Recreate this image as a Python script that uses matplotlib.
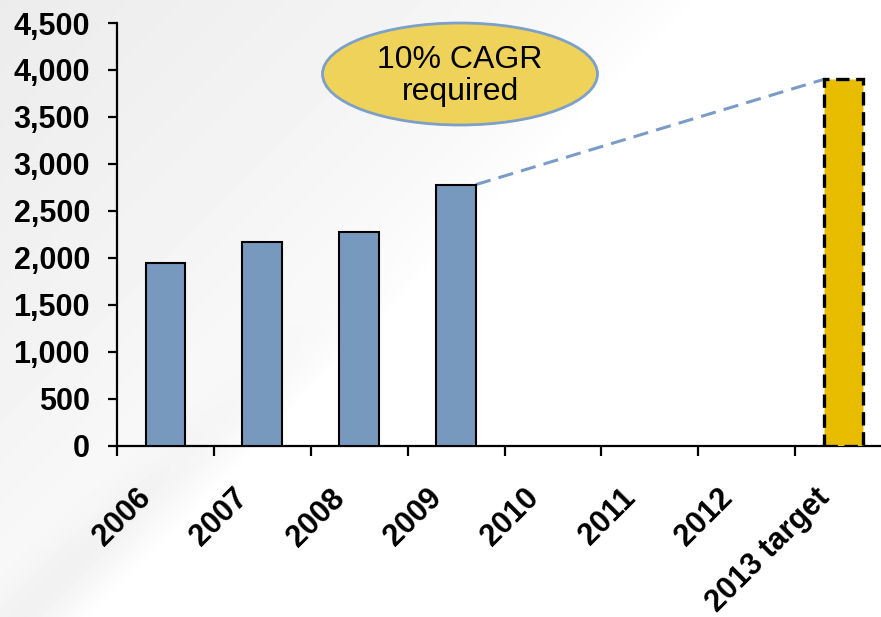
import numpy as np
import matplotlib.pyplot as plt
from matplotlib.patches import Ellipse
from matplotlib.transforms import ScaledTranslation

years = ['2006', '2007', '2008', '2009', '2010', '2011', '2012', '2013 target']
actual = [1950, 2170, 2270, 2780]
target = 3900

plt.rcParams['font.family'] = ['Liberation Sans', 'DejaVu Sans']

fig = plt.figure(figsize=(8.81, 6.17), dpi=100)

# soft grey background swoosh
bg = fig.add_axes([0, 0, 1, 1], zorder=-10)
bg.axis('off')
yy, xx = np.mgrid[0:617, 0:881]
d = (xx + yy).astype(float)
shade = 1 - 0.075 * np.clip(1 - d / 700.0, 0, 1) ** 0.6
band = np.exp(-((d - 640) / 45.0) ** 2) * np.clip((yy - 250) / 300.0, 0, 1)
shade -= 0.035 * band
bg.imshow(shade, cmap='gray', vmin=0, vmax=1, aspect='auto', interpolation='bilinear')

ax = fig.add_axes([0.1328, 0.2776, 0.8797, 0.6851])
ax.set_facecolor('none')
x = np.arange(len(years))
ax.bar(x[:4], actual, width=0.41, color='#7799bd', edgecolor='black', linewidth=1.5, zorder=3)
ax.bar(x[7], target, width=0.41, color='#e8bd00', edgecolor='black', linewidth=2.4,
       linestyle=(0, (4, 2)), zorder=3)

# projection line from last actual to target
ax.plot([x[3] + 0.205, x[7] - 0.205], [actual[3], target], color='#7a9cc6',
        linestyle=(0, (5, 2.7)), linewidth=2.2, zorder=2)

ax.set_xlim(-0.5, len(years) - 0.5)
ax.set_ylim(0, 4500)
ax.set_yticks(range(0, 4501, 500))
ax.set_yticklabels([f'{v:,}' for v in range(0, 4501, 500)], fontsize=22, fontweight='bold')

ax.set_xticks(np.arange(len(years) + 1) - 0.5)
ax.set_xticklabels([])
ax.set_xticks(x, minor=True)
ax.set_xticklabels(years, minor=True, rotation=45, ha='right', fontsize=22, fontweight='bold')
ax.tick_params(axis='x', which='minor', length=0, pad=27)
ax.tick_params(axis='x', which='major', length=7, width=1.6, direction='out')
ax.tick_params(axis='y', which='major', length=6.5, width=1.6, direction='out', pad=13)
offset = ScaledTranslation(-8 / 100, 0, fig.dpi_scale_trans)
for lbl in ax.get_xticklabels(minor=True):
    lbl.set_transform(lbl.get_transform() + offset)

for s in ['top', 'right']:
    ax.spines[s].set_visible(False)
ax.spines['left'].set_linewidth(1.6)
ax.spines['bottom'].set_linewidth(1.6)

# CAGR callout
ell = Ellipse((460 / 881, 1 - 74 / 617), 275 / 881, 102 / 617, transform=fig.transFigure,
              facecolor='#eed25a', edgecolor='#7da0c8', linewidth=2, zorder=5)
fig.patches.append(ell)
fig.text(460 / 881, 1 - 76 / 617, '10% CAGR\nrequired', ha='center', va='center',
         fontsize=23, linespacing=1.05, zorder=6)

fig.savefig('out.png', dpi=100)
